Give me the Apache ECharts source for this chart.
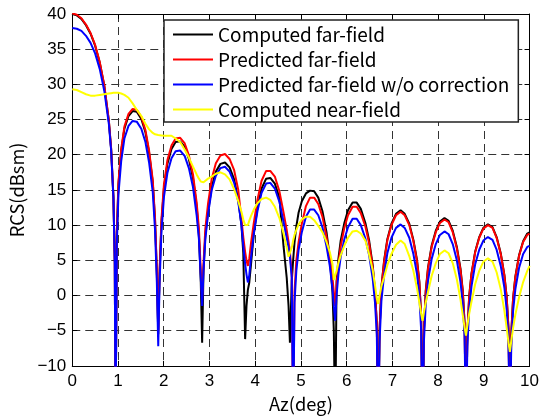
<!DOCTYPE html>
<html><head><meta charset="utf-8">
<script src="https://cdn.jsdelivr.net/npm/echarts@6/dist/echarts.min.js"></script>
<style>html,body{margin:0;padding:0;background:#fff}#c{width:542px;height:418px}</style>
</head><body><div id="c"></div>
<script>
// Azimuth samples (deg)
const az = [
  0, 0.1, 0.2, 0.3, 0.4, 0.5, 0.6, 0.7, 0.8, 0.85, 0.9, 0.93, 0.946,
  0.975, 1.01, 1.07, 1.14, 1.23, 1.32, 1.41, 1.51, 1.60, 1.68, 1.76, 1.81, 1.85, 1.88,
  1.91, 1.95, 2.005, 2.08, 2.17, 2.26, 2.36, 2.46, 2.55, 2.64, 2.72, 2.77, 2.81, 2.84,
  2.87, 2.91, 2.97, 3.05, 3.14, 3.24, 3.34, 3.44, 3.54, 3.63, 3.70, 3.74, 3.78, 3.81, 3.84,
  3.87, 3.91, 3.97, 4.05, 4.14, 4.24, 4.33, 4.43, 4.53, 4.62, 4.69, 4.73, 4.76, 4.80, 4.83,
  4.86, 4.90, 4.95, 5.02, 5.11, 5.20, 5.29, 5.38, 5.47, 5.56, 5.63, 5.69, 5.72, 5.75,
  5.78, 5.82, 5.87, 5.95, 6.03, 6.13, 6.22, 6.31, 6.41, 6.49, 6.57, 6.62, 6.66, 6.69,
  6.72, 6.76, 6.82, 6.89, 6.98, 7.08, 7.18, 7.27, 7.37, 7.46, 7.54, 7.59, 7.63, 7.66,
  7.69, 7.73, 7.78, 7.86, 7.95, 8.04, 8.14, 8.23, 8.32, 8.41, 8.49, 8.54, 8.58, 8.61,
  8.64, 8.68, 8.73, 8.81, 8.90, 8.99, 9.09, 9.19, 9.28, 9.37, 9.45, 9.50, 9.54, 9.57,
  9.60, 9.64, 9.69, 9.77, 9.86, 9.95, 10.0
];
// RCS values (dBsm)
const computedFar = [
  40.0, 39.8, 39.3, 38.4, 37.2, 35.5, 33.1, 29.8, 24.8, 20.8, 14.0, 4.7, -20,
  8.8, 15.8, 20.5, 23.7, 25.5, 26.2, 26.1, 25.1, 23.2, 20.3, 16.1, 10.7, 3.2, -5.5,
  3.2, 10.3, 15.3, 18.7, 20.8, 21.8, 21.9, 21.1, 19.4, 16.7, 12.7, 8.5, 2.0, -6.7,
  3.5, 8.6, 12.0, 15.4, 17.6, 18.7, 18.9, 18.2, 16.5, 13.6, 10.0, 6.0, -6.2, -1.5, 0.8,
  1.8, 4.5, 8.8, 12.5, 15.2, 16.6, 16.7, 15.9, 13.9, 7.0, 2.5, -1.5, -6.7, 2.0, 5.0,
  7.5, 9.8, 11.8, 13.4, 14.5, 14.9, 14.8, 13.9, 12.0, 9.0, 5.5, 0.5, -5.0, -20,
  2.0, 5.2, 7.8, 10.3, 12.1, 13.2, 13.2, 12.3, 10.3, 7.9, 4.3, 0.7, -4.0, -20,
  -5.0, 1.2, 5.0, 8.0, 10.2, 11.6, 12.1, 11.6, 10.2, 7.9, 5.0, 2.0, -3.0, -20,
  -5.0, 0.7, 4.0, 7.1, 9.2, 10.5, 11.0, 10.6, 9.2, 6.9, 3.8, 0.7, -4.0, -20,
  -5.4, -0.1, 3.1, 6.2, 8.3, 9.6, 10.1, 9.7, 8.3, 6.0, 2.9, -0.2, -4.7, -20,
  -5.4, -0.4, 2.7, 5.7, 7.7, 8.8, 8.95
];
const predictedFar = [
  40.1, 39.9, 39.4, 38.5, 37.3, 35.6, 33.2, 29.9, 24.9, 20.9, 14.1, 4.8, -20,
  9.1, 16.1, 20.8, 24.0, 25.8, 26.5, 26.4, 25.4, 23.5, 20.6, 16.4, 11.0, 3.5, -5.0,
  3.7, 10.8, 15.8, 19.2, 21.3, 22.3, 22.4, 21.6, 19.9, 17.2, 13.2, 9.5, 3.5, -0.5,
  4.5, 9.5, 13.1, 16.6, 18.8, 19.9, 20.1, 19.4, 17.8, 15.0, 10.8, 8.3, 6.2, 5.0, 4.2,
  5.2, 7.5, 10.3, 13.6, 16.3, 17.7, 17.7, 16.9, 14.8, 11.8, 9.3, 7.6, 6.2, 3.0, -20,
  0.5, 5.0, 7.6, 10.2, 12.7, 13.9, 13.9, 13.0, 11.2, 8.3, 5.5, 2.5, 0.5, -1.5,
  1.5, 4.5, 7.0, 9.6, 11.4, 12.6, 12.6, 11.7, 9.8, 7.5, 4.0, 0.5, -4.0, -20,
  -5.0, 1.0, 4.8, 7.8, 10.0, 11.4, 11.9, 11.4, 10.0, 7.7, 4.8, 1.8, -3.0, -20,
  -5.0, 0.5, 3.8, 6.9, 9.0, 10.3, 10.8, 10.4, 9.0, 6.7, 3.6, 0.5, -4.0, -20,
  -5.5, -0.2, 3.0, 6.1, 8.2, 9.5, 10.0, 9.6, 8.2, 5.9, 2.8, -0.3, -4.8, -20,
  -5.5, -0.5, 2.6, 5.6, 7.6, 8.6, 8.8
];
const predictedNoCorr = [
  38.0, 37.9, 37.6, 36.9, 35.9, 34.4, 32.2, 29.1, 24.4, 20.6, 13.8, 4.5, -20,
  7.4, 14.4, 19.1, 22.3, 24.1, 24.8, 24.7, 23.7, 21.8, 18.9, 14.7, 9.3, 1.8, -7.2,
  1.9, 9.0, 14.0, 17.4, 19.5, 20.5, 20.6, 19.8, 18.1, 15.4, 11.4, 8.0, 2.5, -1.5,
  3.5, 8.0, 11.6, 15.0, 17.0, 18.1, 18.3, 17.6, 16.0, 13.3, 10.0, 7.0, 4.5, 3.0, 1.85,
  2.8, 5.5, 8.8, 12.0, 14.6, 15.9, 16.0, 15.2, 13.3, 10.5, 8.2, 6.8, 5.5, 2.5, -20,
  -1.0, 3.5, 6.5, 9.0, 11.2, 12.2, 12.2, 11.4, 9.7, 7.0, 4.3, 1.0, -1.5, -3.6,
  0.0, 3.0, 5.5, 8.0, 9.7, 10.9, 10.9, 10.0, 8.1, 5.8, 2.4, -1.0, -5.5, -20,
  -6.5, -0.8, 3.0, 6.0, 8.2, 9.6, 10.1, 9.6, 8.2, 5.9, 3.0, 0.0, -5.0, -20,
  -6.5, -1.2, 2.1, 5.2, 7.3, 8.6, 9.1, 8.7, 7.3, 5.0, 1.9, -1.2, -5.7, -20,
  -7.2, -1.9, 1.3, 4.4, 6.5, 7.8, 8.3, 7.9, 6.5, 4.2, 1.1, -2.0, -6.5, -20,
  -7.2, -2.2, 0.9, 3.9, 5.9, 6.9, 7.05
];
const computedNear = [
  29.3, 29.2, 28.9, 28.6, 28.4, 28.4, 28.5, 28.6, 28.7, 28.75, 28.8, 28.8, 28.8,
  28.8, 28.8, 28.7, 28.5, 28.1, 27.3, 26.4, 25.5, 24.4, 23.6, 23.1, 22.9, 22.85, 22.8,
  22.8, 22.75, 22.7, 22.7, 22.7, 22.3, 21.8, 20.7, 19.6, 18.3, 17.2, 16.6, 16.2, 16.0,
  16.1, 16.3, 16.6, 16.9, 17.3, 17.5, 17.2, 16.5, 15.1, 13.4, 11.9, 10.8, 10.0, 9.8, 10.0,
  10.6, 11.3, 12.2, 13.1, 13.7, 13.9, 13.6, 12.6, 11.0, 8.8, 6.8, 5.5, 5.6, 6.8, 7.8,
  8.6, 9.3, 10.1, 10.8, 11.2, 11.2, 10.7, 9.9, 9.0, 7.6, 6.2, 4.5, 2.2, 2.1,
  3.5, 4.6, 5.7, 7.1, 8.2, 9.1, 9.2, 8.8, 7.8, 5.9, 3.6, 1.5, -0.4, -1.2,
  0.0, 1.3, 2.6, 4.3, 5.9, 7.2, 7.8, 7.3, 5.6, 3.5, 1.0, -1.0, -2.6, -3.6,
  -2.4, -1.0, 0.5, 2.8, 4.6, 5.9, 6.4, 6.0, 4.6, 2.3, -0.6, -2.8, -4.6, -5.7,
  -4.3, -2.6, -0.9, 1.6, 3.5, 4.8, 5.3, 4.8, 3.3, 0.9, -2.2, -4.6, -6.7, -8.0,
  -6.5, -4.6, -2.7, -0.3, 1.9, 3.5, 4.2
];
const seriesNames = ['Computed far-field', 'Predicted far-field', 'Predicted far-field w/o correction', 'Computed near-field'];
const seriesColors = ['#000000', '#ff0000', '#0000ff', '#ffff00'];
const xRange = [0, 10, 1];
const yRange = [-10, 40, 5];
const xName = 'Az(deg)';
const yName = 'RCS(dBsm)';

// font helpers: scale the label font so its width matches the reference
const ctx = document.createElement('canvas').getContext('2d');
const textFont = 'Noto Sans CJK JP';
function sizeFor(family, text, target) {
  ctx.font = "100px '" + family + "', sans-serif";
  return 100 * target / ctx.measureText(text).width;
}
const legendSize = Math.min(19, sizeFor(textFont, seriesNames[2], 293));
const nameSize = Math.min(19, sizeFor(textFont, xName, 64));
const tickFont = 'Liberation Sans';

const series = [computedFar, predictedFar, predictedNoCorr, computedNear].map((vals, i) => ({
  name: seriesNames[i],
  type: 'line',
  data: az.map((x, j) => [x, vals[j]]),
  showSymbol: false,
  symbol: 'none',
  clip: true,
  lineStyle: { color: seriesColors[i], width: 2 },
  itemStyle: { color: seriesColors[i] },
  emphasis: { disabled: true },
  z: 2 + i
}));

function axisBase(range) {
  return {
    type: 'value', min: range[0], max: range[1], interval: range[2],
    axisLine: { show: true, onZero: false, lineStyle: { color: '#000', width: 1 } },
    axisTick: { show: true, inside: true, length: 5, lineStyle: { color: '#000', width: 1 } }
  };
}
const minusFmt = v => String(v).replace('-', '\u2212');

const chart = echarts.init(document.getElementById('c'), null, { renderer: 'canvas' });
chart.setOption({
  animation: false,
  backgroundColor: '#fff',
  grid: { left: 71, right: 9, top: 14, bottom: 52, containLabel: false },
  legend: {
    data: seriesNames,
    orient: 'vertical',
    left: 164, top: 20,
    padding: [5, 9, 3, 9],
    itemGap: 6,
    itemWidth: 40, itemHeight: 2,
    icon: 'rect',
    backgroundColor: '#fff',
    borderColor: '#222', borderWidth: 1.5,
    selectedMode: false,
    textStyle: { color: '#000', fontFamily: textFont, fontSize: legendSize, lineHeight: 17 }
  },
  xAxis: [
    Object.assign(axisBase(xRange), {
      position: 'bottom',
      axisLabel: { color: '#000', fontFamily: tickFont, fontSize: 17, margin: 7, formatter: minusFmt },
      splitLine: { show: true, lineStyle: { color: '#333', width: 1, type: [8, 5] } },
      name: xName, nameLocation: 'middle', nameGap: 24,
      nameTextStyle: { color: '#000', fontFamily: textFont, fontSize: nameSize }
    }),
    Object.assign(axisBase(xRange), {
      position: 'top', axisLabel: { show: false }, splitLine: { show: false }
    })
  ],
  yAxis: [
    Object.assign(axisBase(yRange), {
      position: 'left',
      axisLabel: { color: '#000', fontFamily: tickFont, fontSize: 17, margin: 6, formatter: minusFmt },
      splitLine: { show: true, lineStyle: { color: '#333', width: 1, type: [8, 5] } },
      name: yName, nameLocation: 'middle', nameGap: 46, nameRotate: 90,
      nameTextStyle: { color: '#000', fontFamily: textFont, fontSize: nameSize }
    }),
    Object.assign(axisBase(yRange), {
      position: 'right', axisLabel: { show: false }, splitLine: { show: false }
    })
  ],
  series: series
});
</script>
</body></html>
